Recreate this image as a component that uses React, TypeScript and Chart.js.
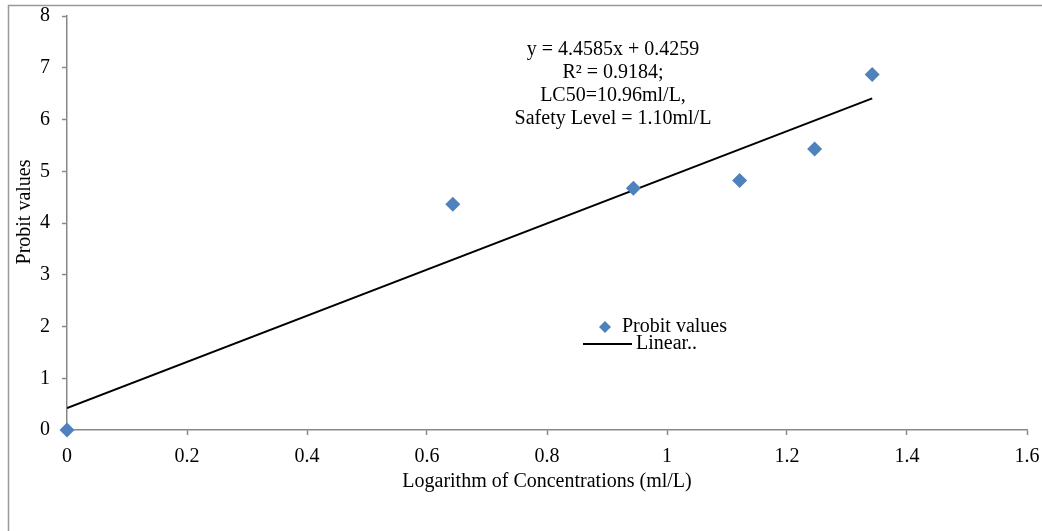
import React, { useEffect, useRef } from "react";
import { Chart, registerables } from "chart.js";

Chart.register(...registerables);

const logConc = [0, 0.643, 0.944, 1.121, 1.246, 1.342];
const probitValues = [0, 4.36, 4.67, 4.82, 5.43, 6.87];
const slope = 4.4585;
const intercept = 0.4259;
const xTickValues = [0, 0.2, 0.4, 0.6, 0.8, 1, 1.2, 1.4, 1.6];
const xTickLabels = ["0", "0.2", "0.4", "0.6", "0.8", "1", "1.2", "1.4", "1.6"];
const yTickValues = [0, 1, 2, 3, 4, 5, 6, 7, 8];
const yTickLabels = ["0", "1", "2", "3", "4", "5", "6", "7", "8"];
const annotationLines = [
  "y = 4.4585x + 0.4259",
  "R\u00b2 = 0.9184;",
  "LC50=10.96ml/L,",
  "Safety Level = 1.10ml/L",
];
const xTitle = "Logarithm of Concentrations (ml/L)";
const yTitle = "Probit values";
const legendLabels = ["Probit values", "Linear.."];

const FONT = '"Liberation Serif", "Times New Roman", serif';
const FS = 20;
const AXIS = "#888888";
const BLUE = "#4F81BD";

const decorPlugin = {
  id: "decor",
  afterDraw(chart: any) {
    const ctx = chart.ctx as CanvasRenderingContext2D;
    const area = chart.chartArea;
    ctx.save();
    // outer frame
    ctx.strokeStyle = "#999999";
    ctx.lineWidth = 1.5;
    ctx.beginPath();
    ctx.moveTo(8.5, 600);
    ctx.lineTo(8.5, 5.5);
    ctx.lineTo(1100, 5.5);
    ctx.stroke();

    ctx.fillStyle = "#000";
    ctx.font = `${FS}px ${FONT}`;
    ctx.textAlign = "center";
    ctx.textBaseline = "middle";
    // annotation
    annotationLines.forEach((t, i) => ctx.fillText(t, 613, 50 + i * 23));
    // x title
    ctx.fillText(xTitle, (area.left + area.right) / 2, 482);
    // y title
    ctx.save();
    ctx.translate(25, 212);
    ctx.rotate(-Math.PI / 2);
    ctx.fillText(yTitle, 0, 0);
    ctx.restore();

    // legend
    const ly1 = 327;
    const ly2 = 344;
    ctx.fillStyle = BLUE;
    ctx.beginPath();
    ctx.moveTo(605, ly1 - 6);
    ctx.lineTo(611, ly1);
    ctx.lineTo(605, ly1 + 6);
    ctx.lineTo(599, ly1);
    ctx.closePath();
    ctx.fill();
    ctx.strokeStyle = "#000";
    ctx.lineWidth = 2;
    ctx.beginPath();
    ctx.moveTo(583, ly2);
    ctx.lineTo(632, ly2);
    ctx.stroke();
    ctx.fillStyle = "#000";
    ctx.textAlign = "left";
    ctx.fillText(legendLabels[0], 622, ly1);
    ctx.fillText(legendLabels[1], 636, ly2);
    ctx.restore();
  },
};

export default function App() {
  const ref = useRef<HTMLCanvasElement>(null);
  useEffect(() => {
    if (!ref.current) return;
    const xs = [Math.min(...logConc), Math.max(...logConc)];
    const chart = new Chart(ref.current, {
      type: "scatter",
      data: {
        datasets: [
          {
            type: "line",
            label: legendLabels[1],
            data: xs.map((x) => ({ x, y: slope * x + intercept })),
            borderColor: "#000",
            borderWidth: 2,
            pointRadius: 0,
            fill: false,
            order: 2,
          } as any,
          {
            type: "scatter",
            label: legendLabels[0],
            data: logConc.map((x, i) => ({ x, y: probitValues[i] })),
            pointStyle: "rectRot",
            pointRadius: 7.5,
            pointHoverRadius: 7.5,
            backgroundColor: BLUE,
            borderWidth: 0,
            clip: false,
            order: 1,
          } as any,
        ],
      },
      options: {
        responsive: false,
        animation: false,
        layout: { padding: { left: 0, top: 16, right: 15, bottom: 0 } },
        plugins: { legend: { display: false }, tooltip: { enabled: false } },
        scales: {
          x: {
            type: "linear",
            min: 0,
            max: 1.6,
            afterBuildTicks: (s: any) => {
              s.ticks = xTickValues.map((v) => ({ value: v }));
            },
            afterFit: (s: any) => {
              s.height = 101;
              s.paddingLeft = 0;
              s.paddingRight = 0;
            },
            ticks: {
              callback: (_v: any, i: number) => xTickLabels[i],
              font: { family: FONT, size: FS },
              color: "#000",
              padding: 10,
              maxRotation: 0,
            },
            grid: { drawOnChartArea: false, drawTicks: true, tickLength: 5, tickColor: AXIS, tickWidth: 1.5 },
            border: { color: AXIS, width: 1.5 },
          },
          y: {
            type: "linear",
            min: 0,
            max: 8,
            afterBuildTicks: (s: any) => {
              s.ticks = yTickValues.map((v) => ({ value: v }));
            },
            afterFit: (s: any) => {
              s.width = 67;
              s.paddingTop = 0;
              s.paddingBottom = 0;
            },
            ticks: {
              callback: (_v: any, i: number) => yTickLabels[i],
              font: { family: FONT, size: FS },
              color: "#000",
              padding: 12,
            },
            grid: { drawOnChartArea: false, drawTicks: true, tickLength: 5, tickColor: AXIS, tickWidth: 1.5 },
            border: { color: AXIS, width: 1.5 },
          },
        },
      },
      plugins: [decorPlugin],
    });
    return () => chart.destroy();
  }, []);
  return (
    <div style={{ position: "fixed", left: 0, top: 0, width: 1042, height: 531, background: "#fff" }}>
      <canvas ref={ref} width={1042} height={531} style={{ display: "block" }} />
    </div>
  );
}
